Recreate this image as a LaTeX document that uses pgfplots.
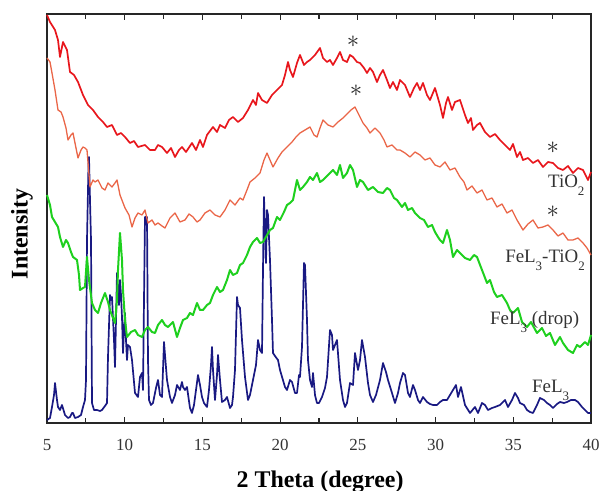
\documentclass[border=0pt]{standalone}
\usepackage{fontspec}
\setmainfont{Liberation Serif}
\usepackage{pgfplots}
\usepackage{pgfplotstable}
\pgfplotsset{compat=1.18}
\definecolor{cRed}{RGB}{232,22,28}
\definecolor{cCoral}{RGB}{234,102,72}
\definecolor{cGreen}{RGB}{30,208,30}
\definecolor{cNavy}{RGB}{25,25,130}
\newcommand{\sub}[1]{\raisebox{-8bp}{\fontsize{13}{13}\selectfont #1}}
% columns: x = pixel column, y = pixel row
\pgfplotstableread{
x y
47 15
50 22
55 30
58 40
60 57
63 42
67 50
70 72
74 75
78 82
83 95
88 105
93 110
98 117
103 122
107 127
112 125
117 135
121 133
125 137
130 143
134 141
138 147
145 145
150 150
155 150
158 145
162 147
167 153
171 148
175 157
179 150
182 147
186 152
192 143
196 150
200 140
203 147
207 135
213 127
217 132
220 125
225 128
229 120
233 117
238 122
243 118
248 110
253 100
256 105
258 93
262 100
267 103
272 95
277 90
282 85
285 75
288 62
290 70
293 77
297 63
300 55
304 65
307 62
310 60
315 55
320 48
323 58
327 62
330 60
333 65
337 58
340 52
343 60
347 62
350 55
353 57
357 62
360 63
364 68
367 73
370 68
373 72
377 82
380 75
383 70
387 80
390 88
393 82
397 90
400 80
405 85
410 97
414 88
417 83
420 90
423 83
427 95
430 100
435 88
440 105
443 118
446 103
448 97
452 110
455 102
460 100
465 115
468 123
471 118
473 130
477 125
480 123
485 132
490 137
495 134
500 140
505 145
510 150
513 144
517 157
520 152
523 160
528 158
533 163
538 160
543 167
548 162
553 163
558 168
563 170
568 166
573 173
578 168
583 170
588 180
591 172
}\tabRed
\pgfplotstableread{
x y
47 58
50 62
52 73
55 90
58 110
61 112
63 117
66 128
68 140
71 135
73 133
76 148
78 158
81 150
83 147
85 148
87 150
90 187
93 180
95 182
98 180
102 188
105 190
108 183
112 187
115 183
117 180
120 195
125 208
129 215
132 227
135 218
138 213
142 215
145 210
148 223
152 220
155 225
158 223
162 226
165 228
170 218
175 213
180 222
185 220
189 214
193 217
197 222
200 220
205 213
210 210
215 215
220 217
225 210
230 200
235 205
240 198
243 200
247 190
250 182
255 178
260 173
264 160
267 153
270 160
273 167
278 158
282 152
287 147
292 142
296 137
300 133
305 130
310 127
314 135
317 137
320 128
323 120
328 125
333 127
338 122
343 118
348 113
351 110
355 107
359 115
363 123
367 128
370 133
375 128
380 133
384 140
387 147
392 145
397 150
400 150
405 153
410 157
415 152
420 155
425 160
430 158
435 165
440 167
445 162
450 170
455 168
460 177
464 182
467 190
472 186
477 193
482 190
487 200
492 198
497 207
502 204
507 213
512 210
517 220
520 225
523 230
528 224
533 220
538 228
543 227
548 225
553 230
558 236
563 233
568 240
573 240
578 238
583 243
587 248
591 255
}\tabCoral
\pgfplotstableread{
x y
47 195
50 205
52 217
55 222
58 227
60 237
63 247
66 240
68 243
71 252
73 257
77 260
79 275
80 290
83 288
85 287
87 257
89 280
92 303
95 310
98 313
101 303
105 293
108 302
110 310
113 318
115 323
117 300
118 270
120 233
122 260
123 290
125 320
127 337
131 332
135 330
138 335
142 337
145 330
148 327
152 332
155 333
158 325
162 320
165 325
168 327
173 322
177 337
180 328
183 320
187 318
190 313
193 315
197 303
200 310
203 310
207 305
210 303
213 295
217 287
220 292
223 290
227 280
230 270
233 275
237 273
240 265
243 263
247 255
250 247
253 242
257 238
260 243
263 242
267 235
270 230
273 228
277 217
280 220
284 212
287 205
290 203
293 200
297 180
300 190
303 187
307 182
310 177
313 180
317 173
320 182
323 180
328 175
333 170
337 175
340 165
343 178
347 173
350 165
353 170
357 187
360 180
363 182
368 190
373 187
378 192
383 193
387 188
390 190
394 198
397 200
402 207
405 203
408 210
412 208
415 213
420 218
424 220
428 227
432 225
435 232
438 237
440 240
443 243
447 230
450 240
453 257
457 250
460 253
465 258
470 260
474 255
477 257
482 270
487 283
490 280
494 292
497 297
502 295
507 303
510 310
513 313
518 308
522 322
527 327
531 322
537 333
542 328
546 336
550 333
555 345
560 337
563 343
568 350
573 353
577 345
580 347
585 342
588 345
591 335
}\tabGreen
\pgfplotstableread{
x y
47 420
50 418
52 407
54 395
55 383
57 400
58 407
60 410
62 405
65 415
68 418
70 417
72 413
73 413
75 418
78 417
81 415
83 407
85 400
86 380
87 240
88.5 165
89 157
90 200
91 240
92 403
94 410
97 410
100 411
102 410
105 406
107 403
108 357
110 295
111 300
112 297
114 340
115 367
116 320
117 273
118 290
119 305
120 280
121 295
122 317
123 353
124 330
125 313
126 340
127 360
128 345
130 347
132 360
135 393
138 397
140 377
142 373
143 390
144 300
145 217
147 217
148 360
149 400
151 405
153 403
156 388
158 380
160 395
162 397
163 370
164 342
165 355
167 380
170 397
172 403
175 395
177 385
180 390
182 382
183 387
185 390
187 387
190 408
192 413
194 405
196 390
198 375
200 385
202 397
204 403
207 407
209 390
211 365
212 347
213 370
215 400
217 375
218 355
220 380
222 402
225 400
227 397
230 408
232 405
233 397
235 370
237 297
238 305
240 308
242 340
245 377
248 400
250 395
253 380
256 365
258 340
260 350
262 353
263 270
264 197
265 230
266 263
267 210
268 215
270 260
272 320
273 353
275 356
278 360
280 370
285 387
287 390
290 380
292 382
295 393
297 393
299 375
300 377
302 347
304 263
305 265
307 320
308 360
310 380
312 387
313 373
315 395
317 403
319 403
322 397
325 388
327 377
330 330
332 335
333 350
335 345
337 340
340 380
343 400
345 407
347 403
350 383
353 385
355 353
358 370
360 360
362 340
365 357
368 383
370 395
373 402
376 395
380 380
383 363
386 372
388 380
392 393
395 403
398 393
400 383
403 373
405 375
408 393
410 397
413 385
415 390
418 400
420 403
423 397
427 402
430 404
433 405
437 405
440 402
443 400
447 400
450 395
453 390
456 385
458 397
461 387
465 405
470 413
475 407
478 413
482 403
485 405
488 410
492 408
495 407
500 405
502 403
505 400
508 407
512 400
515 393
518 398
520 403
524 405
527 410
530 412
533 413
537 405
540 398
544 400
547 403
550 405
553 408
557 404
560 402
564 403
567 402
571 400
575 400
578 402
582 407
585 410
588 413
591 413
}\tabNavy
\begin{document}
\begin{tikzpicture}
\begin{axis}[
  at={(47bp,68bp)}, anchor=south west,
  scale only axis, width=544bp, height=409bp,
  xmin=5, xmax=40, ymin=0, ymax=409,
  xtick={5,10,...,40},
  minor xtick={7.5,12.5,...,37.5},
  ytick=\empty,
  tick align=inside,
  major tick length=6bp, minor tick length=5bp,
  axis line style={black!85, line width=1.3bp},
  every tick/.style={black!85, line width=1.1bp},
  /pgf/number format/assume math mode=true,
  xticklabel style={font=\fontsize{17}{17}\selectfont, text=black!80, anchor=base, yshift=-28bp},
  xlabel={\textbf{2 Theta (degree)}},
  xlabel style={font=\fontsize{24}{24}\selectfont, at={(axis description cs:0.502,0)}, anchor=base, yshift=-64bp, inner sep=0pt},
  ylabel={\textbf{Intensity}},
  ylabel style={font=\fontsize{24}{24}\selectfont, at={(axis description cs:-0.0257,0.462)}, anchor=south, rotate=0, inner sep=0pt},
  clip=false,
  every axis plot/.append style={line join=round},
]
\addplot[cNavy, line width=1.7bp] table[x expr=5+(\thisrow{x}-47)/15.543, y expr=423-\thisrow{y}] {\tabNavy};
\addplot[cGreen, line width=2bp] table[x expr=5+(\thisrow{x}-47)/15.543, y expr=423-\thisrow{y}] {\tabGreen};
\addplot[cCoral, line width=1.3bp] table[x expr=5+(\thisrow{x}-47)/15.543, y expr=423-\thisrow{y}] {\tabCoral};
\addplot[cRed, line width=1.7bp] table[x expr=5+(\thisrow{x}-47)/15.543, y expr=423-\thisrow{y}] {\tabRed};
\node[font=\fontsize{25}{25}\selectfont, text=black!85] at (axis cs:24.69,381) {$\ast$};
\node[font=\fontsize{25}{25}\selectfont, text=black!85] at (axis cs:24.88,332) {$\ast$};
\node[font=\fontsize{25}{25}\selectfont, text=black!85] at (axis cs:37.55,275) {$\ast$};
\node[font=\fontsize{25}{25}\selectfont, text=black!85] at (axis cs:37.55,211) {$\ast$};
\node[anchor=base west, inner sep=0pt, font=\fontsize{19}{19}\selectfont, text=black!80] at (axis cs:37.23,235) {TiO\sub{2}};
\node[anchor=base west, inner sep=0pt, font=\fontsize{19}{19}\selectfont, text=black!80] at (axis cs:34.47,160) {FeL\sub{3}-TiO\sub{2}};
\node[anchor=base west, inner sep=0pt, font=\fontsize{19}{19}\selectfont, text=black!80] at (axis cs:33.50,98) {FeL\sub{3} (drop)};
\node[anchor=base west, inner sep=0pt, font=\fontsize{19}{19}\selectfont, text=black!80] at (axis cs:36.20,30) {FeL\sub{3}};
\end{axis}
\pgfresetboundingbox
\useasboundingbox (0,0) rectangle (599bp,491bp);
\end{tikzpicture}
\end{document}
